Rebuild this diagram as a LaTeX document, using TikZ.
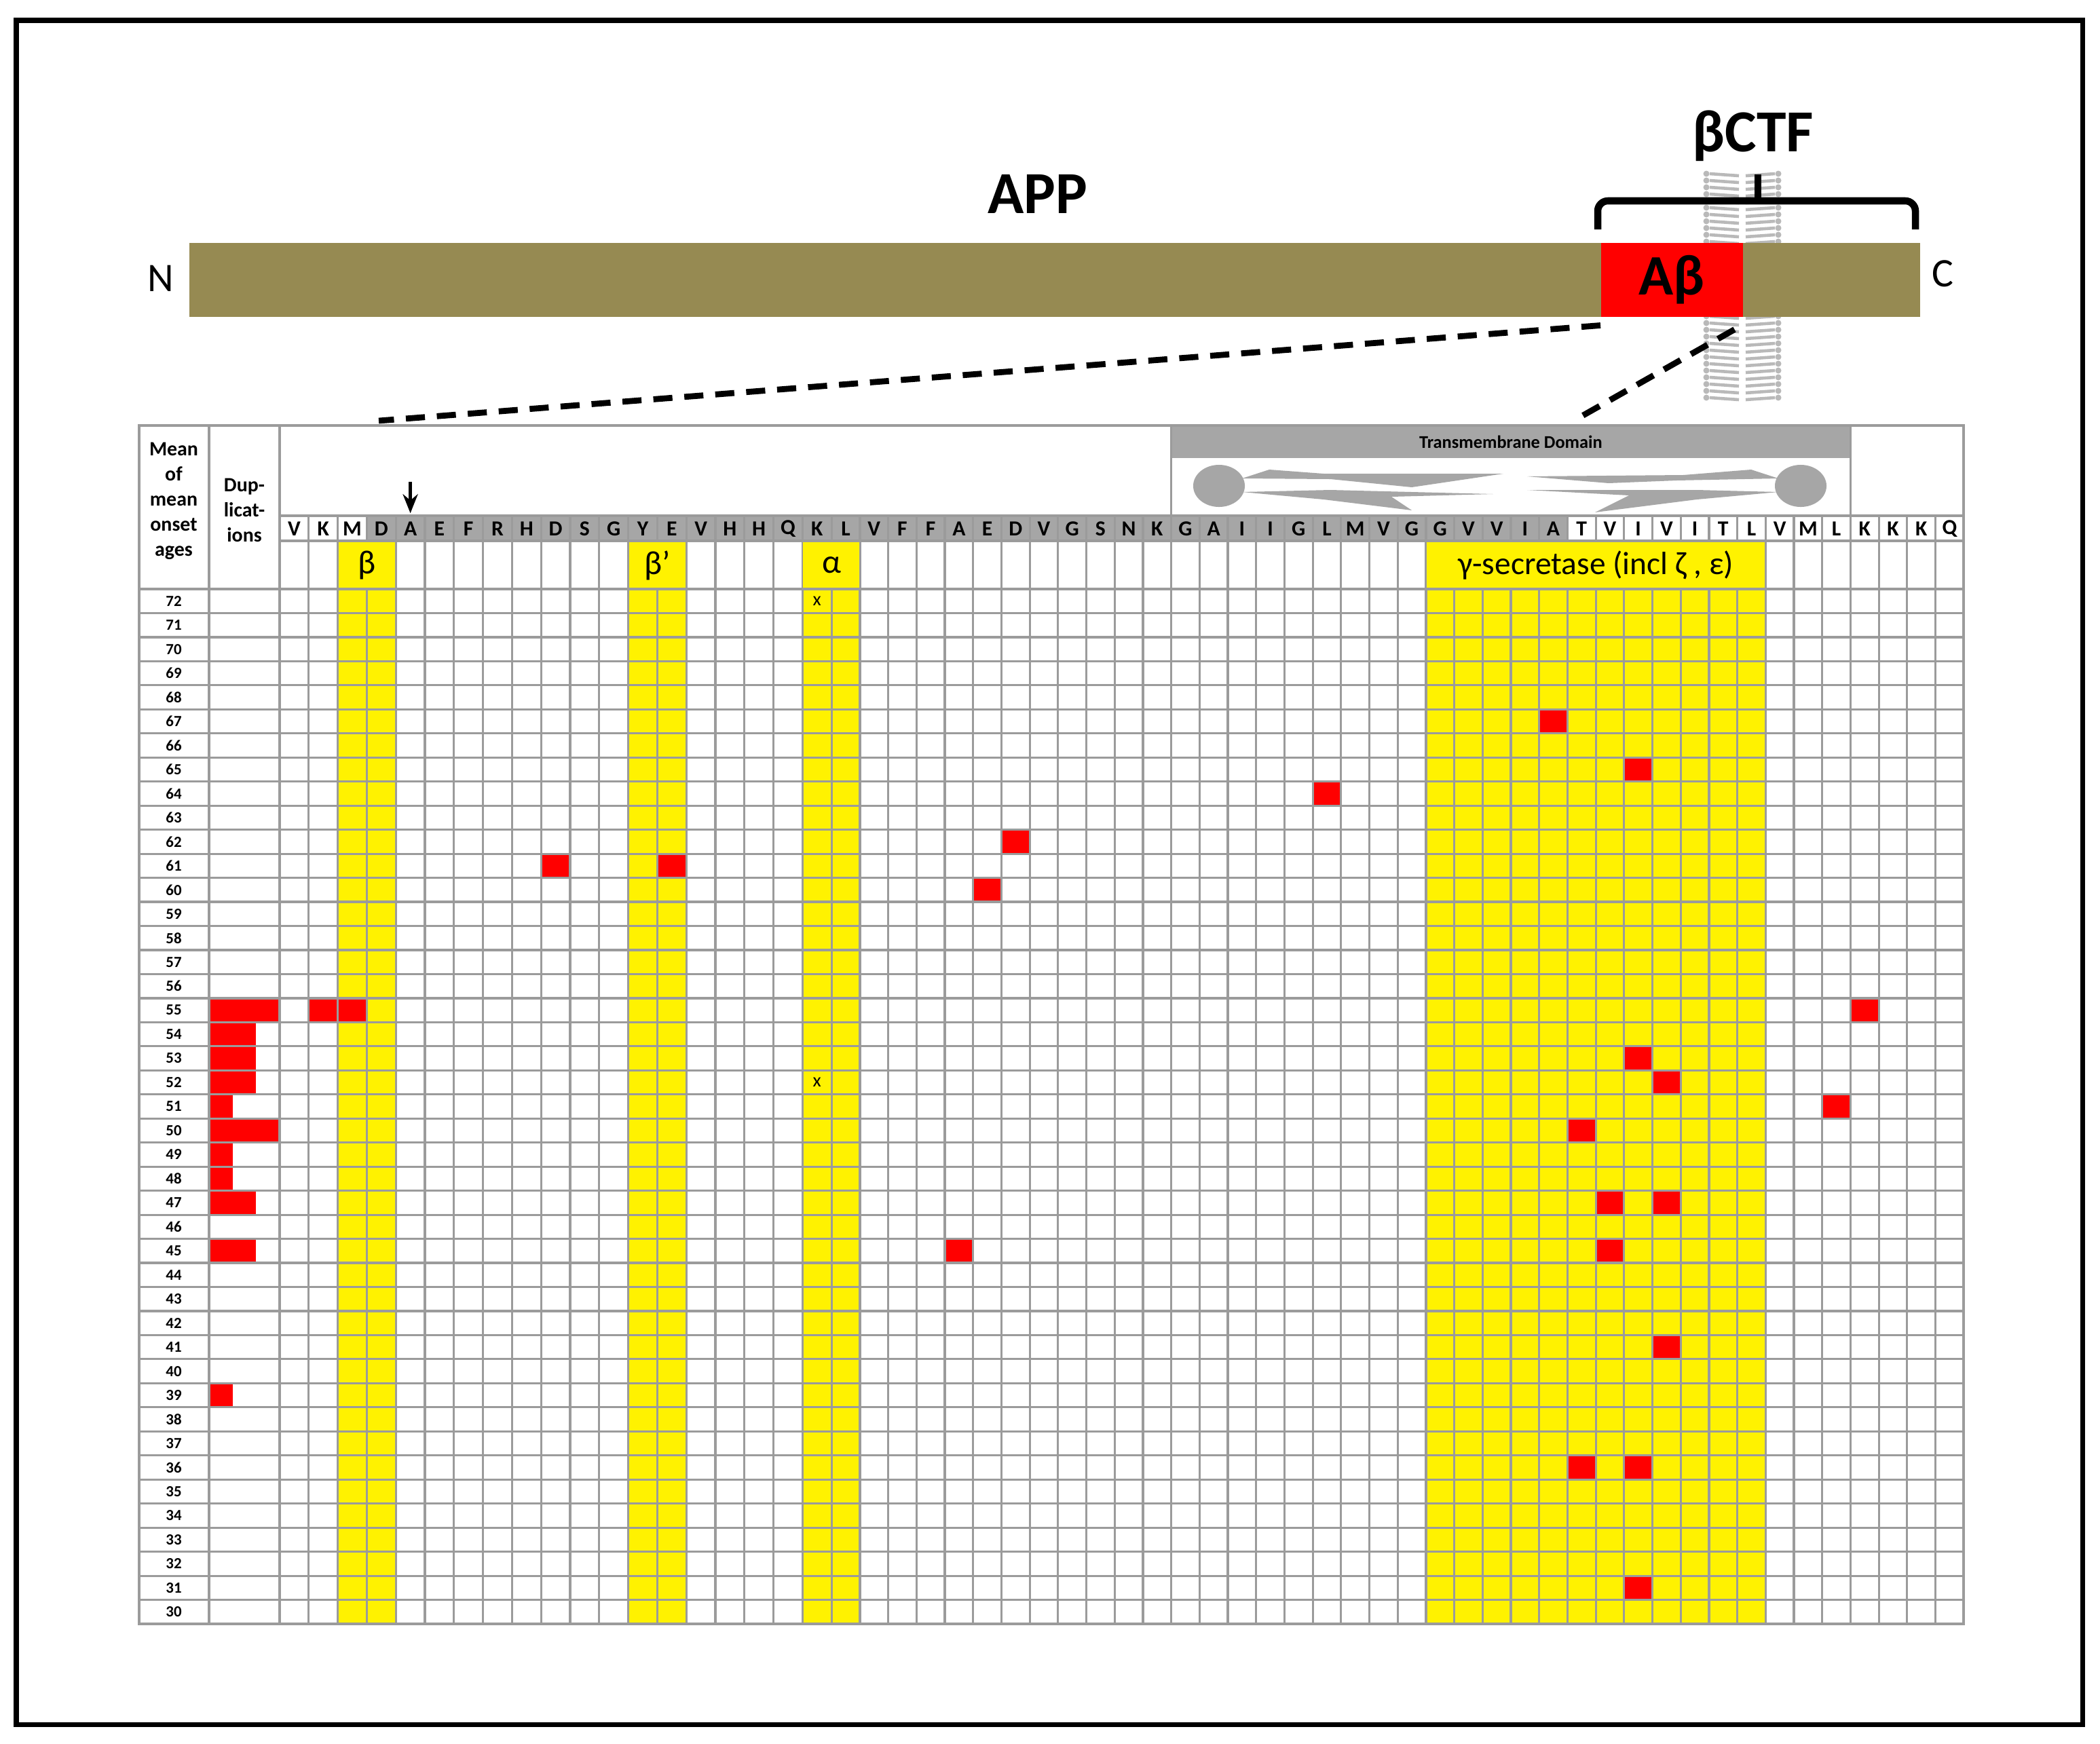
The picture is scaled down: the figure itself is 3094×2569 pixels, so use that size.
\documentclass[tikz,border=0pt]{standalone}
\usepackage{fontspec}
\setmainfont{Carlito}
\usetikzlibrary{arrows.meta}
\definecolor{barcol}{RGB}{150,138,82}
\definecolor{tmgray}{RGB}{166,166,166}
\definecolor{gridcol}{RGB}{155,155,155}
\definecolor{lipid}{RGB}{185,185,185}
\begin{document}
\begin{tikzpicture}[x=0.01cm,y=-0.01cm,
  declare function={cx(\i)=(\i<=19)*(412+(\i-1)*42.8)+(\i>19)*(1225.2+(\i-20)*41.7); ry(\a)=868+(72-\a)*35.465;},
  gridline/.style={draw=gridcol,line width=0.9pt},
  aa/.style={font={\fontsize{9}{10}\selectfont\bfseries}},
  agelbl/.style={font={\fontsize{6.5}{7}\selectfont\bfseries}},
  glbl/.style={font={\fontsize{14}{15}\selectfont}},
  redc/.style={fill=red}]
\useasboundingbox (0,0) rectangle (3094,2569);
\fill[white] (0,0) rectangle (3094,2569);
\draw[line width=2pt] (24,30) rectangle (3068,2541);

% membrane bilayer
\foreach \y in {256,266,...,586} {
  \fill[lipid] (2514,\y) circle (0.045cm);
  \draw[lipid,line width=1.3pt] (2519,\y) -- (2562,\y+3);
  \fill[lipid] (2620,\y) circle (0.045cm);
  \draw[lipid,line width=1.3pt] (2572,\y+3) -- (2615,\y);
}

% APP bar
\node (app) [fill=barcol,inner sep=0,minimum width=25.49cm,minimum height=1.09cm,anchor=north west] at (278,357) {};
\node (abeta) [fill=red,inner sep=0,minimum width=2.09cm,minimum height=1.09cm,anchor=north west,font={\fontsize{24}{24}\selectfont\bfseries}] at (2358,357) {Aβ};
\node (nlbl) [font={\fontsize{17}{17}\selectfont}] at (237,410) {N};
\node (clbl) [font={\fontsize{17}{17}\selectfont}] at (2862,403) {C};
\node (applbl) [font={\fontsize{25}{25}\selectfont\bfseries}] at (1529,286) {APP};
\node (ctflbl) [font={\fontsize{25}{25}\selectfont\bfseries}] at (2583,200) {βCTF};
\draw[line width=3pt,rounded corners=0.15cm] (2354,338) -- (2354,296) -- (2822,296) -- (2822,338);
\draw[line width=3pt] (2590,296) -- (2590,257);

% dashed zoom lines
\coordinate (d1) at (558,620);
\coordinate (d2) at (2322,618);
\draw[line width=2.5pt,dash pattern=on 8pt off 5pt] ([yshift=-0.12cm]abeta.south west) -- (d1);
\draw[line width=2.5pt,dash pattern=on 8pt off 5pt] ([xshift=-0.13cm,yshift=-0.18cm]abeta.south east) -- (d2);

% yellow columns
\fill[yellow] ({cx(3)},797) rectangle ({cx(5)},2393);
\fill[yellow] ({cx(13)},797) rectangle ({cx(15)},2393);
\fill[yellow] ({cx(19)},797) rectangle ({cx(21)},2393);
\fill[yellow] ({cx(41)},797) rectangle ({cx(53)},2393);
% gray header
\fill[tmgray] ({cx(4)},760) rectangle ({cx(46)},797);

% red cells
\foreach \c/\a in {45/67,48/65,37/64,26/62,10/61,14/61,25/60,2/55,3/55,56/55,48/53,49/52,55/51,46/50,47/47,49/47,24/45,47/45,49/41,46/36,48/36,48/31}
  \fill[red] ({cx(\c)},{ry(\a)}) rectangle ({cx(\c+1)},{ry(\a)+35.465});
\foreach \n/\a in {3/55,2/54,2/53,2/52,1/51,3/50,1/49,1/48,2/47,2/45,1/39}
  \fill[red] (308,{ry(\a)}) rectangle ({308+\n*34.67},{ry(\a)+35.465});

% grid
\foreach \k in {0,...,43} \draw[gridline] (205,{868+\k*35.465}) -- (2893,{868+\k*35.465});
\draw[gridline] (412,760) -- (2893,760);
\draw[gridline] (412,797) -- (2893,797);
\foreach \i in {2,...,59} \draw[gridline] ({cx(\i)},760) -- ({cx(\i)},2393);
\foreach \xx in {308,412} \draw[gridline] (\xx,627) -- (\xx,2393);
\draw[gridline] (205,627) rectangle (2893,2393);

% label-row yellow overlays
\fill[yellow] ({cx(3)+1},799) rectangle ({cx(5)-1},866);
\fill[yellow] ({cx(13)+1},799) rectangle ({cx(15)-1},866);
\fill[yellow] ({cx(19)+1},799) rectangle ({cx(21)-1},866);
\fill[yellow] ({cx(41)+1},799) rectangle ({cx(53)-1},866);

% transmembrane domain box
\fill[tmgray] ({cx(32)},627) rectangle ({cx(56)},675);
\draw[gridline] ({cx(32)},627) rectangle ({cx(56)},760);
\node (tmd) [font={\fontsize{7.5}{8}\selectfont\bfseries}] at (2226,651) {Transmembrane Domain};
\fill[tmgray] (1796,716) ellipse [x radius=0.38cm,y radius=0.31cm];
\fill[tmgray] (2653,716) ellipse [x radius=0.38cm,y radius=0.31cm];
\begin{scope}[fill=tmgray]
\fill (1830,705) -- (1870,692) -- (1950,698) -- (2215,698) -- (2080,718) -- (1960,706) -- cycle;
\fill (1830,725) -- (1960,722) -- (2200,728) -- (2050,732) -- (2080,752) -- (1950,736) -- cycle;
\fill (2620,705) -- (2580,692) -- (2480,700) -- (2250,702) -- (2370,712) -- (2470,708) -- cycle;
\fill (2620,725) -- (2500,722) -- (2250,722) -- (2400,730) -- (2350,755) -- (2500,736) -- cycle;
\end{scope}

% amino acid letters
\foreach \L [count=\i] in {V,K,M,D,A,E,F,R,H,D,S,G,Y,E,V,H,H,Q,K,L,V,F,F,A,E,D,V,G,S,N,K,G,A,I,I,G,L,M,V,G,G,V,V,I,A,T,V,I,V,I,T,L,V,M,L,K,K,K,Q}
  \node[aa] (aa\i) at ({(cx(\i)+cx(\i+1))/2},779) {\L};

% cleavage arrow
\coordinate (arrtop) at ({(cx(5)+cx(6))/2},710);
\draw[line width=1.6pt,-{Stealth[length=0.28cm,width=0.22cm]}] (arrtop) -- (aa5.north);

% secretase labels
\node[glbl] (beta) at ({cx(4)},833) {β};
\node[glbl] (betap) at ({cx(14)},833) {β’};
\node[glbl] (alpha) at ({cx(20)},833) {α};
\node[font={\fontsize{13.5}{14}\selectfont}] (gamma) at ({cx(47)},833) {γ-secretase (incl ζ , ε)};
\node[font={\fontsize{8}{9}\selectfont}] (x1) at ({(cx(19)+cx(20))/2},{ry(72)+17.7}) {x};
\node[font={\fontsize{8}{9}\selectfont}] (x2) at ({(cx(19)+cx(20))/2},{ry(52)+17.7}) {x};

% left headers
\node[align=center,font={\fontsize{8.5}{10.5}\selectfont\bfseries}] (meanhdr) at (256,738) {Mean\\of\\mean\\onset\\ages};
\node[align=center,font={\fontsize{8.5}{10.5}\selectfont\bfseries}] (duphdr) at (360,752) {Dup-\\licat-\\ions};
\foreach \a in {30,...,72}
  \node[agelbl] (age\a) at (256,{ry(\a)+17.7}) {\a};
\end{tikzpicture}
\end{document}
